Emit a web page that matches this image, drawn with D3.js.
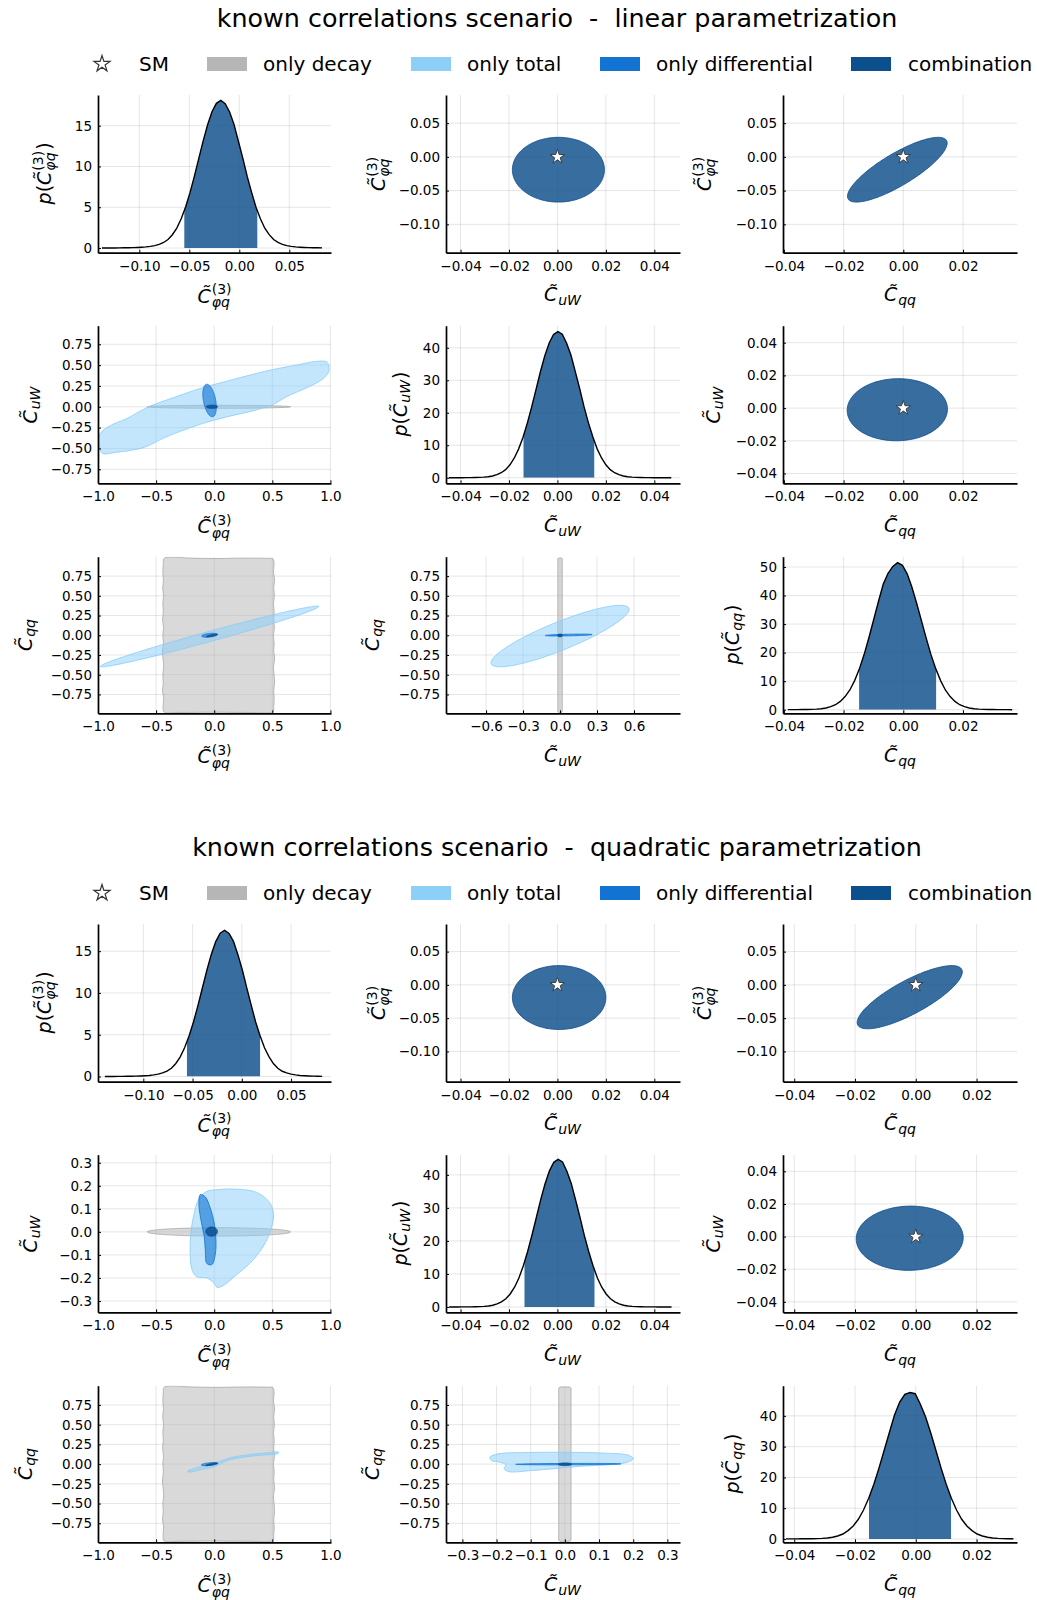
<!DOCTYPE html>
<html>
<head>
<meta charset="utf-8">
<script src="https://cdn.jsdelivr.net/npm/d3@7"></script>
<style>
  body { margin: 0; background: #fff; }
  svg text { font-family: "DejaVu Sans", sans-serif; fill: #000; }
</style>
</head>
<body>
<svg id="chart" width="1037" height="1600"></svg>
<script>
// ---------------- text ----------------
const titles = [
  "known correlations scenario  -  linear parametrization",
  "known correlations scenario  -  quadratic parametrization"
];
const legendLabels = ["SM", "only decay", "only total", "only differential", "combination"];

// ---------------- tick values ----------------
const ticksPhiq = [-0.10, -0.05, 0.00, 0.05];
const ticksSmall = [-0.04, -0.02, 0.00, 0.02, 0.04];
const ticksQQ = [-0.04, -0.02, 0.00, 0.02];
const ticksUnit = [-1.0, -0.5, 0.0, 0.5, 1.0];
const ticksQuarter = [-0.75, -0.50, -0.25, 0.00, 0.25, 0.50, 0.75];
const ticksThird = [-0.6, -0.3, 0.0, 0.3, 0.6];
const ticksTenth = [-0.3, -0.2, -0.1, 0.0, 0.1, 0.2, 0.3];
const ticksDens15 = [0, 5, 10, 15];
const ticksDens40 = [0, 10, 20, 30, 40];
const ticksDens50 = [0, 10, 20, 30, 40, 50];

// ---------------- marginal posteriors (binned densities) ----------------
// linear parametrization
const linPhiqBins = [-0.1395, 0.0044];           // first edge, bin width
const linPhiqDensity = [0.005,0.01,0.01,0.015,0.02,0.03,0.04,0.05,0.07,0.10,0.14,0.20,0.30,0.45,0.68,1.05,1.63,2.45,3.58,5.03,6.79,8.81,10.99,13.14,15.11,16.71,17.74,18.10,17.70,16.68,15.16,13.09,11.03,8.78,6.82,5.01,3.60,2.43,1.64,1.04,0.69,0.45,0.30,0.20,0.14,0.10,0.07,0.05,0.04,0.03,0.02];
const linPhiqInterval = [-0.055, 0.018];
const linUWBins = [-0.0457, 0.0018];
const linUWDensity = [0.01,0.015,0.02,0.03,0.04,0.05,0.08,0.12,0.2,0.32,0.55,0.95,1.55,2.5,4.0,6.1,8.9,12.5,16.9,21.9,27.3,32.7,37.6,41.5,44.1,45.0,44.2,41.4,37.7,32.6,27.4,21.8,16.9,12.6,8.9,6.1,4.0,2.5,1.55,0.95,0.55,0.32,0.2,0.12,0.08,0.05,0.04,0.03,0.02,0.015,0.01,0.005];
const linUWInterval = [-0.0140, 0.0152];
const linQQBins = [-0.0395, 0.0016];
const linQQDensity = [0.02,0.03,0.04,0.06,0.08,0.13,0.2,0.35,0.6,1.05,1.75,2.9,4.6,6.9,10.2,14.3,19.4,25.3,31.6,38.0,44.0,47.8,50.2,51.5,50.6,47.6,42.9,37.2,31.1,25.0,19.2,14.3,10.2,6.9,4.6,2.9,1.75,1.05,0.6,0.35,0.2,0.13,0.08,0.06,0.04,0.03,0.02,0.01];
const linQQInterval = [-0.0148, 0.0110];

// quadratic parametrization
const quadPhiqBins = [-0.14125, 0.0045];
const quadPhiqDensity = [0.005,0.01,0.01,0.015,0.02,0.03,0.04,0.05,0.07,0.095,0.13,0.19,0.29,0.43,0.64,0.98,1.56,2.36,3.47,4.87,6.56,8.52,10.62,12.71,14.61,16.15,17.15,17.50,17.12,16.18,14.58,12.74,10.60,8.55,6.53,4.89,3.45,2.38,1.55,0.99,0.63,0.43,0.29,0.19,0.13,0.095,0.07,0.05,0.03,0.02];
const quadPhiqInterval = [-0.0557, 0.0185];
const quadUWBins = [-0.0456, 0.0018];
const quadUWDensity = [0.01,0.015,0.02,0.03,0.04,0.05,0.08,0.12,0.2,0.32,0.55,0.95,1.55,2.5,3.95,6.0,8.8,12.4,16.8,21.8,27.1,32.5,37.3,41.2,43.8,44.7,43.9,41.1,37.4,32.4,27.2,21.7,16.8,12.5,8.8,6.0,3.95,2.5,1.55,0.95,0.55,0.32,0.2,0.12,0.08,0.05,0.04,0.03,0.02,0.015,0.01,0.005];
const quadUWInterval = [-0.0136, 0.0153];
const quadQQBins = [-0.04355, 0.0017];
const quadQQDensity = [0.01,0.02,0.03,0.04,0.05,0.08,0.12,0.2,0.33,0.55,0.95,1.6,2.7,4.2,6.4,9.4,13.2,17.8,23.1,28.8,34.6,40.3,44.5,47.0,47.6,47.2,43.8,39.7,34.5,28.8,23.1,17.8,13.2,9.4,6.4,4.2,2.7,1.6,0.95,0.55,0.33,0.2,0.12,0.08,0.05];
const quadQQInterval = [-0.0154, 0.0116];

// ---------------- 2D credible regions ----------------
// ellipses: [centre x, half-width x, centre y, half-width y, correlation]
const linComb_uW_phiq = [0.0004, 0.0190, -0.019, 0.048, 0.0];
const linComb_qq_phiq = [-0.002, 0.0167, -0.019, 0.048, 0.82];
const linComb_qq_uW   = [-0.002, 0.0168, -0.001, 0.0190, 0.02];
const linComb_phiq_uW = [-0.019, 0.048, 0.0003, 0.019, 0.0];
const linComb_phiq_qq = [-0.019, 0.048, -0.002, 0.0167, 0.82];
const linComb_uW_qq   = [0.0003, 0.019, -0.002, 0.0167, 0.0];
const linDiff_phiq_uW = [-0.040, 0.058, 0.075, 0.195, -0.4];
const linDiff_phiq_qq = [-0.040, 0.068, 0.0, 0.025, 0.4];
const linDiff_uW_qq   = [0.070, 0.190, 0.003, 0.012, 0.5];
const linTotal_phiq_qq = [-0.040, 0.940, -0.015, 0.385, 0.985];
const linTotal_uW_qq   = [0.0, 0.560, -0.010, 0.390, 0.87];

const quadComb_uW_phiq = [0.0007, 0.0193, -0.019, 0.048, 0.0];
const quadComb_qq_phiq = [-0.002, 0.0173, -0.0185, 0.0475, 0.80];
const quadComb_qq_uW   = [-0.002, 0.0176, -0.001, 0.0197, 0.02];
const quadComb_phiq_uW = [-0.022, 0.050, 0.0015, 0.020, 0.0];
const quadComb_phiq_qq = [-0.022, 0.050, -0.002, 0.017, 0.82];
const quadComb_uW_qq   = [0.0003, 0.019, -0.002, 0.017, 0.0];
const quadDiff_phiq_qq = [-0.040, 0.070, 0.0, 0.020, 0.5];
const quadDiff_uW_qq   = [0.010, 0.154, 0.0, 0.009, 0.3];

const decay_phiq_uW = [0.04, 0.617, 0.0, 0.018, 0.0];

// outlines read point by point: [x, y]
const linTotal_phiq_uW = [[-0.985,-0.50],[-0.985,-0.33],[-0.90,-0.23],[-0.75,-0.14],[-0.58,-0.01],[-0.35,0.11],[-0.12,0.22],[0.17,0.33],[0.45,0.43],[0.74,0.51],[0.88,0.545],[0.965,0.54],[0.985,0.50],[0.985,0.42],[0.93,0.33],[0.80,0.23],[0.62,0.12],[0.51,0.03],[0.30,-0.06],[0.17,-0.10],[-0.12,-0.21],[-0.41,-0.36],[-0.61,-0.49],[-0.84,-0.545],[-0.96,-0.56]];
const quadTotal_phiq_uW = [[-0.063,0.176],[0.023,0.183],[0.166,0.186],[0.338,0.176],[0.424,0.154],[0.488,0.118],[0.511,0.075],[0.488,0.01],[0.439,-0.048],[0.338,-0.12],[0.195,-0.185],[0.066,-0.236],[0.023,-0.24],[-0.005,-0.221],[-0.063,-0.2],[-0.149,-0.195],[-0.192,-0.163],[-0.207,-0.091],[-0.201,-0.004],[-0.178,0.068],[-0.135,0.14]];
const quadDiff_phiq_uW = [[-0.12,0.162],[-0.077,0.152],[-0.034,0.104],[0.0,0.039],[0.015,-0.033],[0.009,-0.098],[-0.02,-0.142],[-0.063,-0.137],[-0.077,-0.077],[-0.086,-0.019],[-0.115,0.053],[-0.132,0.126]];
const quadTotal_phiq_qq = [[-0.225,-0.085],[-0.15,-0.045],[-0.05,-0.005],[0.05,0.035],[0.15,0.085],[0.3,0.12],[0.45,0.142],[0.555,0.152],[0.55,0.135],[0.4,0.112],[0.25,0.088],[0.1,0.04],[0.0,-0.035],[-0.1,-0.065],[-0.2,-0.1],[-0.228,-0.098]];
const quadTotal_uW_qq = [[-0.219,0.088],[-0.195,0.13],[-0.107,0.147],[-0.01,0.15],[0.117,0.139],[0.185,0.114],[0.2,0.071],[0.18,0.02],[0.039,-0.03],[-0.097,-0.081],[-0.166,-0.094],[-0.178,-0.056],[-0.173,-0.009],[-0.19,0.025],[-0.215,0.046]];
const decay_phiq_qq = [[-0.43,0.975],[-0.2,0.978],[0.0,0.972],[0.2,0.977],[0.45,0.975],[0.505,0.968],[0.515,0.9],[0.51,0.8],[0.52,0.7],[0.512,0.6],[0.518,0.5],[0.51,0.4],[0.516,0.3],[0.512,0.2],[0.518,0.1],[0.51,0.0],[0.516,-0.1],[0.512,-0.2],[0.52,-0.3],[0.51,-0.4],[0.515,-0.5],[0.52,-0.6],[0.512,-0.7],[0.516,-0.8],[0.512,-0.9],[0.505,-0.968],[0.3,-0.978],[0.0,-0.975],[-0.3,-0.978],[-0.43,-0.975],[-0.44,-0.9],[-0.435,-0.8],[-0.445,-0.7],[-0.438,-0.6],[-0.442,-0.5],[-0.435,-0.4],[-0.44,-0.3],[-0.445,-0.2],[-0.437,-0.1],[-0.442,0.0],[-0.436,0.1],[-0.444,0.2],[-0.438,0.3],[-0.442,0.4],[-0.436,0.5],[-0.443,0.6],[-0.437,0.7],[-0.442,0.8],[-0.438,0.9]];
const decay_uW_qq = [[-0.014,0.978],[0.014,0.978],[0.018,0.965],[0.018,-0.965],[0.014,-0.978],[-0.014,-0.978],[-0.018,-0.965],[-0.018,0.965]];

// Standard Model point
const smPoint = [0, 0];

// ---------------- styling ----------------
const regionStyle = {
  decay: { fill: "#b3b3b3", op: 0.5, stroke: "#a9a9a9" },
  total: { fill: "#87cefa", op: 0.5, stroke: "#87cefa" },
  diff:  { fill: "#1273d3", op: 0.62, stroke: "#1273d3" },
  comb:  { fill: "#0c4d8b", op: 0.82, stroke: "#0c4d8b" }
};
const legendColors = ["#b6b6b6", "#8ccff7", "#1273d3", "#0c4f8d"];

// panel frame (pixel layout)
const colX = [[98, 331], [446, 680], [783, 1017]];
const rowY = [[95, 252.7], [325.7, 483.3], [556.7, 713.3]];
const yLabelCX = [[44, 378, 704], [31, 401, 714], [26, 373, 733]];
const blockOffset = [0, 829];

const TICK_FS = 13.5, LABEL_FS = 19;

// ---------------- math labels ----------------
const LBL_PHIQ = [{ t: "C\u0303", it: true }, { sup: "(3)", sub: "\u03c6q" }];
const LBL_UW = [{ t: "C\u0303", it: true }, { sub: "uW" }];
const LBL_QQ = [{ t: "C\u0303", it: true }, { sub: "qq" }];
const wrapP = l => [{ t: "p", it: true }, { t: "(" }, ...l, { t: ")" }];

const svg = d3.select("#chart");
const defs = svg.append("defs");
let clipId = 0;

function buildLabel(parent, parts, size) {
  const g = parent.append("g");
  const small = size * 0.74;
  let x = 0;
  for (const p of parts) {
    if (p.t !== undefined) {
      const t = g.append("text").attr("x", x).attr("y", 0)
        .attr("font-size", size).attr("font-style", p.it ? "italic" : "normal").text(p.t);
      x += t.node().getComputedTextLength();
    } else {
      let w = 0;
      if (p.sup) {
        const s = g.append("text").attr("x", x + 1).attr("y", -size * 0.44)
          .attr("font-size", small).text(p.sup);
        w = Math.max(w, s.node().getComputedTextLength());
      }
      if (p.sub) {
        const s = g.append("text").attr("x", x + 1).attr("y", size * (p.sup ? 0.24 : 0.18))
          .attr("font-size", small).attr("font-style", "italic").text(p.sub);
        w = Math.max(w, s.node().getComputedTextLength());
      }
      x += w + 2;
    }
  }
  return g;
}
function placeLabel(g, cx, cy, rotate) {
  const b = g.node().getBBox();
  const mx = b.x + b.width / 2, my = b.y + b.height / 2;
  g.attr("transform", `translate(${cx},${cy})${rotate ? " rotate(-90)" : ""} translate(${-mx},${-my})`);
}

function ellipsePoints(e) {
  const [cx, sx, cy, sy, rho] = e;
  const q = Math.sqrt(1 - rho * rho);
  return d3.range(120).map(i => {
    const t = 2 * Math.PI * i / 120;
    return [cx + sx * Math.cos(t), cy + sy * (rho * Math.cos(t) + q * Math.sin(t))];
  });
}

function drawPanel(spec, oy) {
  const [x0, x1] = colX[spec.c];
  const [y0, y1] = rowY[spec.r].map(v => v + oy);
  const xs = d3.scaleLinear().domain(spec.x.domain).range([x0, x1]);
  const ys = d3.scaleLinear().domain(spec.y.domain).range([y1, y0]);
  const g = svg.append("g");

  // grid
  g.append("g").selectAll("line").data(spec.x.ticks).join("line")
    .attr("x1", d => xs(d)).attr("x2", d => xs(d)).attr("y1", y0).attr("y2", y1)
    .attr("stroke", "#000").attr("stroke-opacity", 0.1).attr("stroke-width", 1);
  g.append("g").selectAll("line").data(spec.y.ticks).join("line")
    .attr("y1", d => ys(d)).attr("y2", d => ys(d)).attr("x1", x0).attr("x2", x1)
    .attr("stroke", "#000").attr("stroke-opacity", 0.1).attr("stroke-width", 1);

  const id = "clip" + (clipId++);
  defs.append("clipPath").attr("id", id).append("rect")
    .attr("x", x0).attr("y", y0).attr("width", x1 - x0).attr("height", y1 - y0);
  const content = g.append("g").attr("clip-path", `url(#${id})`);

  if (spec.hist) {
    const h = spec.hist;
    // one point per bin centre
    const pts = h.values.map((v, i) => [h.bins[0] + (i + 0.5) * h.bins[1], v]);
    const line = d3.line().x(d => xs(d[0])).y(d => ys(d[1]));
    const area = d3.area().x(d => xs(d[0])).y0(ys(0)).y1(d => ys(d[1]));
    const fid = "clip" + (clipId++);
    defs.append("clipPath").attr("id", fid).append("rect")
      .attr("x", xs(h.interval[0])).attr("y", y0)
      .attr("width", xs(h.interval[1]) - xs(h.interval[0])).attr("height", ys(0) - y0);
    content.append("path").attr("d", area(pts)).attr("clip-path", `url(#${fid})`)
      .attr("fill", regionStyle.comb.fill).attr("fill-opacity", regionStyle.comb.op);
    content.append("path").attr("d", line(pts)).attr("fill", "none")
      .attr("stroke", "#000").attr("stroke-width", 1.4);
  }

  (spec.layers || []).forEach(([kind, shape, data]) => {
    const st = regionStyle[kind];
    const pts = shape === "e" ? ellipsePoints(data) : data;
    const curve = shape === "p" ? d3.curveCatmullRomClosed.alpha(0.5) : d3.curveLinearClosed;
    const gen = d3.line().x(d => xs(d[0])).y(d => ys(d[1])).curve(curve);
    content.append("path").attr("d", gen(pts))
      .attr("fill", st.fill).attr("fill-opacity", st.op)
      .attr("stroke", st.stroke).attr("stroke-width", 0.9).attr("stroke-opacity", 0.9);
  });

  if (spec.star) {
    content.append("path").attr("d", d3.symbol(d3.symbolStar, 66)())
      .attr("transform", `translate(${xs(smPoint[0])},${ys(smPoint[1])})`)
      .attr("fill", "#fff").attr("stroke", "#404040").attr("stroke-width", 1);
  }

  // axes
  const ax = g.append("g").attr("transform", `translate(0,${y1})`)
    .call(d3.axisBottom(xs).tickValues(spec.x.ticks).tickFormat(d3.format(spec.x.fmt))
      .tickSizeInner(-3).tickSizeOuter(0).tickPadding(8.5));
  const ay = g.append("g").attr("transform", `translate(${x0},0)`)
    .call(d3.axisLeft(ys).tickValues(spec.y.ticks).tickFormat(d3.format(spec.y.fmt))
      .tickSizeInner(-3).tickSizeOuter(0).tickPadding(6));
  [ax, ay].forEach(a => {
    a.select(".domain").attr("stroke", "#000").attr("stroke-width", 1.7);
    a.selectAll(".tick line").attr("stroke", "#000");
    a.selectAll(".tick text").attr("font-size", TICK_FS).attr("font-family", "DejaVu Sans").attr("fill", "#000");
  });

  // axis titles
  const xl = buildLabel(g, spec.xl, LABEL_FS);
  placeLabel(xl, (x0 + x1) / 2, y1 + 43, false);
  const yl = buildLabel(g, spec.yl, LABEL_FS);
  placeLabel(yl, yLabelCX[spec.r][spec.c], (y0 + y1) / 2, true);
}

function drawHeader(title, oy) {
  svg.append("text").attr("x", 557).attr("y", 27 + oy).attr("text-anchor", "middle")
    .attr("font-size", 25.4).style("white-space", "pre").text(title);
  const cy = 64 + oy;
  svg.append("path").attr("d", d3.symbol(d3.symbolStar, 80)())
    .attr("transform", `translate(102,${cy})`)
    .attr("fill", "#fff").attr("stroke", "#333").attr("stroke-width", 1.2);
  const swatchX = [207, 411, 600, 851];
  const textX = [139, 263, 467, 656, 908];
  swatchX.forEach((x, i) => {
    svg.append("rect").attr("x", x).attr("y", cy - 7).attr("width", 40).attr("height", 14)
      .attr("fill", legendColors[i]);
  });
  legendLabels.forEach((t, i) => {
    svg.append("text").attr("x", textX[i]).attr("y", cy + 7).attr("font-size", 20).text(t);
  });
}

// ---------------- scenario definitions ----------------
const axLin = {
  phiqHist: { domain: [-0.1413, 0.0917], ticks: ticksPhiq, fmt: ".2f" },
  phiqDens: { domain: [-0.57, 18.76], ticks: ticksDens15, fmt: "d" },
  uW: { domain: [-0.046, 0.0506], ticks: ticksSmall, fmt: ".2f" },
  phiqY: { domain: [-0.142, 0.0917], ticks: ticksPhiq, fmt: ".2f" },
  qq: { domain: [-0.0403, 0.0381], ticks: ticksQQ, fmt: ".2f" },
  uWDens: { domain: [-1.7, 46.8], ticks: ticksDens40, fmt: "d" },
  uWY: { domain: [-0.046, 0.0504], ticks: ticksSmall, fmt: ".2f" },
  phiqWide: { domain: [-1, 1.005], ticks: ticksUnit, fmt: ".1f" },
  uWWideY: { domain: [-0.918, 0.973], ticks: ticksQuarter, fmt: ".2f" },
  qqWideY: { domain: [-0.989, 0.996], ticks: ticksQuarter, fmt: ".2f" },
  uWWideX: { domain: [-0.925, 0.973], ticks: ticksThird, fmt: ".1f" },
  qqDens: { domain: [-1.26, 53.6], ticks: ticksDens50, fmt: "d" }
};
const axQuad = {
  phiqHist: { domain: [-0.146, 0.0905], ticks: ticksPhiq, fmt: ".2f" },
  phiqDens: { domain: [-0.62, 18.25], ticks: ticksDens15, fmt: "d" },
  uW: { domain: [-0.046, 0.0506], ticks: ticksSmall, fmt: ".2f" },
  phiqY: { domain: [-0.1455, 0.0915], ticks: ticksPhiq, fmt: ".2f" },
  qq: { domain: [-0.0437, 0.0333], ticks: ticksQQ, fmt: ".2f" },
  uWDens: { domain: [-1.6, 46.1], ticks: ticksDens40, fmt: "d" },
  uWY: { domain: [-0.0464, 0.0502], ticks: ticksSmall, fmt: ".2f" },
  phiqWide: { domain: [-1, 1.005], ticks: ticksUnit, fmt: ".1f" },
  uWWideY: { domain: [-0.349, 0.335], ticks: ticksTenth, fmt: ".1f" },
  qqWideY: { domain: [-0.991, 0.994], ticks: ticksQuarter, fmt: ".2f" },
  uWWideX: { domain: [-0.348, 0.337], ticks: ticksTenth, fmt: ".1f" },
  qqDens: { domain: [-1.09, 49.8], ticks: ticksDens40, fmt: "d" }
};

const scenarios = [
  {
    title: titles[0], ax: axLin,
    hist: [
      { bins: linPhiqBins, values: linPhiqDensity, interval: linPhiqInterval },
      { bins: linUWBins, values: linUWDensity, interval: linUWInterval },
      { bins: linQQBins, values: linQQDensity, interval: linQQInterval }
    ],
    l01: [["comb", "e", linComb_uW_phiq]],
    l02: [["comb", "e", linComb_qq_phiq]],
    l12: [["comb", "e", linComb_qq_uW]],
    l10: [["decay", "e", decay_phiq_uW], ["total", "p", linTotal_phiq_uW], ["diff", "e", linDiff_phiq_uW], ["comb", "e", linComb_phiq_uW]],
    l20: [["decay", "p", decay_phiq_qq], ["total", "e", linTotal_phiq_qq], ["diff", "e", linDiff_phiq_qq], ["comb", "e", linComb_phiq_qq]],
    l21: [["decay", "r", decay_uW_qq], ["total", "e", linTotal_uW_qq], ["diff", "e", linDiff_uW_qq], ["comb", "e", linComb_uW_qq]]
  },
  {
    title: titles[1], ax: axQuad,
    hist: [
      { bins: quadPhiqBins, values: quadPhiqDensity, interval: quadPhiqInterval },
      { bins: quadUWBins, values: quadUWDensity, interval: quadUWInterval },
      { bins: quadQQBins, values: quadQQDensity, interval: quadQQInterval }
    ],
    l01: [["comb", "e", quadComb_uW_phiq]],
    l02: [["comb", "e", quadComb_qq_phiq]],
    l12: [["comb", "e", quadComb_qq_uW]],
    l10: [["decay", "e", decay_phiq_uW], ["total", "p", quadTotal_phiq_uW], ["diff", "p", quadDiff_phiq_uW], ["comb", "e", quadComb_phiq_uW]],
    l20: [["decay", "p", decay_phiq_qq], ["total", "p", quadTotal_phiq_qq], ["diff", "e", quadDiff_phiq_qq], ["comb", "e", quadComb_phiq_qq]],
    l21: [["decay", "r", decay_uW_qq], ["total", "p", quadTotal_uW_qq], ["diff", "e", quadDiff_uW_qq], ["comb", "e", quadComb_uW_qq]]
  }
];

scenarios.forEach((S, si) => {
  const oy = blockOffset[si];
  const A = S.ax;
  drawHeader(S.title, oy);
  const panels = [
    { r: 0, c: 0, x: A.phiqHist, y: A.phiqDens, xl: LBL_PHIQ, yl: wrapP(LBL_PHIQ), hist: S.hist[0] },
    { r: 0, c: 1, x: A.uW, y: A.phiqY, xl: LBL_UW, yl: LBL_PHIQ, layers: S.l01, star: true },
    { r: 0, c: 2, x: A.qq, y: A.phiqY, xl: LBL_QQ, yl: LBL_PHIQ, layers: S.l02, star: true },
    { r: 1, c: 0, x: A.phiqWide, y: A.uWWideY, xl: LBL_PHIQ, yl: LBL_UW, layers: S.l10 },
    { r: 1, c: 1, x: A.uW, y: A.uWDens, xl: LBL_UW, yl: wrapP(LBL_UW), hist: S.hist[1] },
    { r: 1, c: 2, x: A.qq, y: A.uWY, xl: LBL_QQ, yl: LBL_UW, layers: S.l12, star: true },
    { r: 2, c: 0, x: A.phiqWide, y: A.qqWideY, xl: LBL_PHIQ, yl: LBL_QQ, layers: S.l20 },
    { r: 2, c: 1, x: A.uWWideX, y: A.qqWideY, xl: LBL_UW, yl: LBL_QQ, layers: S.l21 },
    { r: 2, c: 2, x: A.qq, y: A.qqDens, xl: LBL_QQ, yl: wrapP(LBL_QQ), hist: S.hist[2] }
  ];
  panels.forEach(p => drawPanel(p, oy));
});
</script>
</body>
</html>
